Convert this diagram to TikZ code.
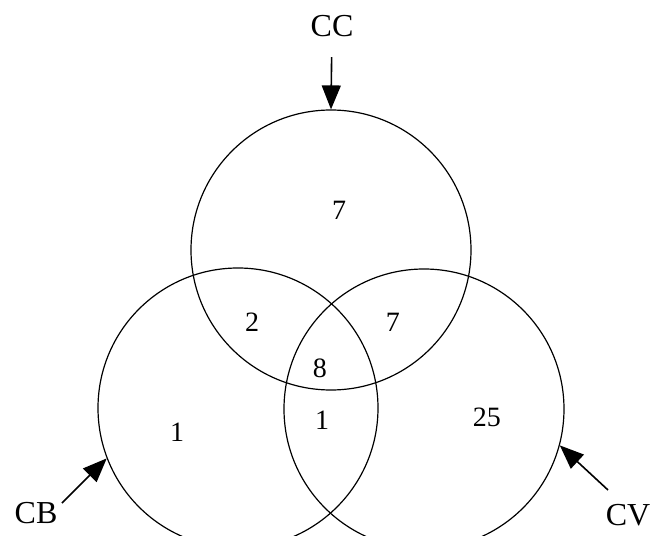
\documentclass[tikz,border=0pt]{standalone}
\usepackage{fontspec}
\setmainfont{Liberation Serif}
\usetikzlibrary{arrows.meta,positioning}

\begin{document}
\begin{tikzpicture}[
        x=0.5pt, y=-0.5pt,
        vennset/.style={circle, draw=black, line width=0.6pt, minimum size=140pt, inner sep=0pt},
        setlabel/.style={font=\fontsize{16}{18}\selectfont, inner sep=0pt},
        countlabel/.style={font=\fontsize{14}{16}\selectfont, inner sep=0pt},
        pointer/.style={-{Triangle[length=12pt, width=9.5pt]}, line width=0.8pt}
    ]
    \clip (0,0) rectangle (650,536);

    % Sets
    \node[vennset] (cc) at (331,250) {};
    \node[vennset] (cb) at (238,408) {};
    \node[vennset] (cv) at (424,409) {};

    % Set names
    \node[setlabel] (lbl-cc) at (332,26) {CC};
    \node[setlabel] (lbl-cb) at (36,513) {CB};
    \node[setlabel] (lbl-cv) at (628,515) {CV};

    % Counts
    \node[countlabel] (n-cc) at (339,210) {7};
    \node[countlabel] (n-cb-cc) at (252,322) {2};
    \node[countlabel] (n-cc-cv) at (393,322) {7};
    \node[countlabel] (n-all) at (320,368) {8};
    \node[countlabel] (n-cb) at (177,432) {1};
    \node[countlabel] (n-cb-cv) at (322,420) {1};
    \node[countlabel] (n-cv) at (487,417) {25};

    % Arrows
    \coordinate (cb-tail) at (62,503);
    \coordinate (cv-tail) at (608,490);
    \draw[pointer, shorten <=10pt] (lbl-cc) -- (cc.north);
    \draw[pointer] (cb-tail) -- (cb.201);
    \draw[pointer] (cv-tail) -- (cv.345);

\end{tikzpicture}
\end{document}
